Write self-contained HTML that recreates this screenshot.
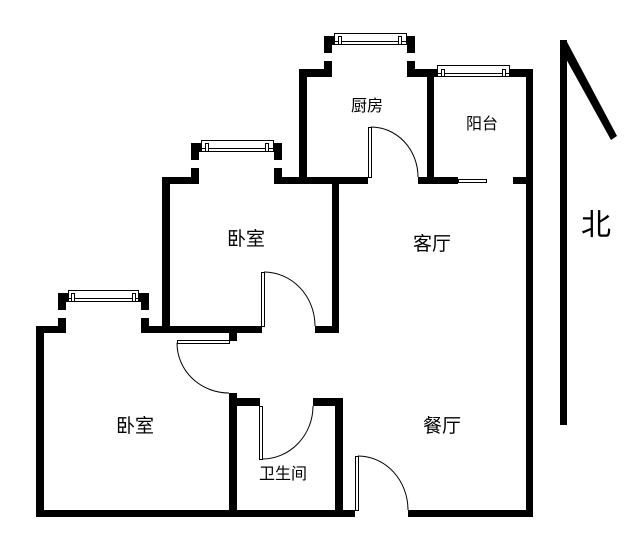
<!DOCTYPE html>
<html><head><meta charset="utf-8"><style>
html,body{margin:0;padding:0;background:#fff;}
svg{display:block}
text{font-family:"Liberation Sans","Noto Sans CJK SC",sans-serif;fill:#000}
</style></head><body>
<svg width="626" height="550" viewBox="0 0 626 550" xmlns="http://www.w3.org/2000/svg">
<g fill="#000">
<rect x="36" y="326" width="8" height="191"/>
<rect x="36" y="510" width="319" height="7"/>
<rect x="408" y="510" width="125" height="7"/>
<rect x="36" y="326" width="30" height="7"/>
<rect x="141" y="326" width="121" height="7"/>
<rect x="315" y="326" width="24" height="7"/>
<rect x="58" y="293" width="8" height="17"/>
<rect x="58" y="293" width="12" height="9"/>
<rect x="58" y="318" width="8" height="15"/>
<rect x="141" y="293" width="8" height="17"/>
<rect x="137" y="293" width="12" height="9"/>
<rect x="141" y="318" width="8" height="15"/>
<rect x="162" y="177" width="8" height="156"/>
<rect x="162" y="177" width="37" height="7"/>
<rect x="274" y="177" width="94" height="7"/>
<rect x="332" y="177" width="7" height="156"/>
<rect x="191" y="143" width="8" height="17"/>
<rect x="191" y="143" width="12" height="9"/>
<rect x="191" y="168" width="8" height="16"/>
<rect x="274" y="143" width="8" height="17"/>
<rect x="270" y="143" width="12" height="9"/>
<rect x="274" y="168" width="8" height="16"/>
<rect x="299" y="69" width="8" height="115"/>
<rect x="299" y="69" width="33" height="8"/>
<rect x="407" y="69" width="126" height="8"/>
<rect x="324" y="36" width="8" height="17"/>
<rect x="324" y="36" width="12" height="9"/>
<rect x="324" y="61" width="8" height="16"/>
<rect x="407" y="36" width="8" height="17"/>
<rect x="403" y="36" width="12" height="9"/>
<rect x="407" y="61" width="8" height="16"/>
<rect x="427" y="69" width="7" height="115"/>
<rect x="418" y="177" width="40" height="7"/>
<rect x="513" y="177" width="20" height="7"/>
<rect x="526" y="69" width="7" height="448"/>
<rect x="229" y="333" width="8" height="8"/>
<rect x="229" y="393" width="8" height="124"/>
<rect x="229" y="398" width="31" height="8"/>
<rect x="313" y="398" width="30" height="8"/>
<rect x="335" y="398" width="8" height="119"/>
<rect x="560" y="40" width="7" height="385"/>
<polygon points="560,40 566,40 617,136 611,140 560,48"/>
</g>
<g fill="#fff" stroke="#000" stroke-width="1">
<rect x="68.5" y="290.5" width="70" height="11"/>
<line x1="68" y1="298.5" x2="139" y2="298.5"/>
<rect x="71.5" y="293.5" width="3" height="8"/>
<rect x="132.5" y="293.5" width="3" height="8"/>
<rect x="201.5" y="140.5" width="72" height="11"/>
<line x1="201" y1="148.5" x2="274" y2="148.5"/>
<rect x="205.5" y="143.5" width="3" height="8"/>
<rect x="265.5" y="143.5" width="3" height="8"/>
<rect x="334.5" y="33.5" width="72" height="11"/>
<line x1="334" y1="41.5" x2="407" y2="41.5"/>
<rect x="338.5" y="36.5" width="3" height="8"/>
<rect x="398.5" y="36.5" width="3" height="8"/>
<rect x="437.5" y="65.5" width="72" height="11"/>
<line x1="437" y1="73.5" x2="510" y2="73.5"/>
<rect x="441.5" y="69.5" width="3" height="7"/>
<rect x="502.5" y="69.5" width="3" height="7"/>
<rect x="458.5" y="179.5" width="28" height="3"/>
<rect x="368.5" y="127.5" width="3" height="50"/>
<rect x="261.5" y="272.5" width="3" height="54"/>
<rect x="177.5" y="340.5" width="52" height="3"/>
<rect x="259.5" y="406.5" width="3" height="53"/>
<rect x="355.5" y="456.5" width="3" height="54"/>
</g>
<g fill="none" stroke="#000" stroke-width="1">
<path d="M371,127 A47,50 0 0 1 418,177"/>
<path d="M264,272 A51,54 0 0 1 315,326"/>
<path d="M177,343 A52,50 0 0 0 229,393"/>
<path d="M262,459 A51,53 0 0 0 313,406"/>
<path d="M358,456 A50,54 0 0 1 408,510"/>
</g>
<text x="367" y="111" font-size="16" text-anchor="middle">厨房</text>
<text x="482" y="129" font-size="16" text-anchor="middle">阳台</text>
<text x="246" y="245" font-size="19" text-anchor="middle">卧室</text>
<text x="432" y="250" font-size="19" text-anchor="middle">客厅</text>
<text x="135" y="432" font-size="19" text-anchor="middle">卧室</text>
<text x="442" y="432" font-size="19" text-anchor="middle">餐厅</text>
<text x="283" y="479" font-size="16" text-anchor="middle">卫生间</text>
<text x="596" y="235" font-size="30" text-anchor="middle">北</text>
</svg>
</body></html>
